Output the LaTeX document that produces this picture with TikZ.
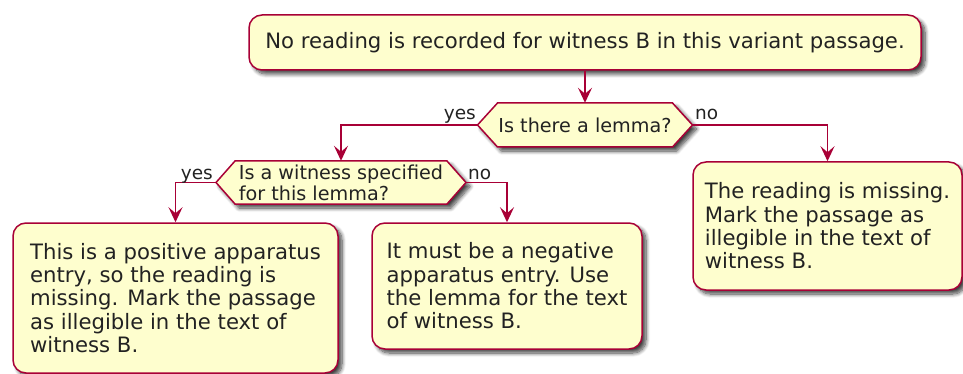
\documentclass[tikz,border=0pt]{standalone}
\usepackage{fontspec}
\setmainfont{DejaVu Sans}
\usetikzlibrary{arrows.meta,shadows.blur}
\definecolor{pborder}{HTML}{A80036}
\definecolor{pfill}{HTML}{FEFECE}
\definecolor{ptext}{HTML}{222222}
\tikzset{
  pshadow/.style={blur shadow={shadow xshift=4pt, shadow yshift=-4pt, shadow blur steps=8, shadow blur radius=4pt, shadow opacity=75}},
  actbox/.style={draw=pborder, fill=pfill, line width=1.5pt, rounded corners=13pt, align=left,
    font=\fontsize{21.2}{23.3}\selectfont, text=ptext, inner sep=0pt, pshadow},
  dectext/.style={inner sep=0pt, align=left, font=\fontsize{19.2}{21.2}\selectfont, text=ptext},
  hexpath/.style={draw=pborder, fill=pfill, line width=1.5pt, pshadow},
  lbl/.style={inner sep=0pt, font=\fontsize{18.5}{21}\selectfont, text=ptext},
  conn/.style={draw=pborder, line width=1.5pt, -{Stealth[length=15pt, width=14pt, inset=6pt]}}
}
\begin{document}
\begin{tikzpicture}[x=1pt,y=1pt]
\useasboundingbox (0,0) rectangle (963,-374);

\node[actbox, minimum width=672pt, minimum height=55pt] (start) at (585,-42.5)
  {No reading is recorded for witness B in this variant passage.};

% decision 1 hexagon (width 215, height 44, slant 20)
\coordinate (c1) at (585,-125);
\path[hexpath] ([shift={(-107.5,0)}]c1) -- ([shift={(-87.5,22)}]c1) -- ([shift={(87.5,22)}]c1)
  -- ([shift={(107.5,0)}]c1) -- ([shift={(87.5,-22)}]c1) -- ([shift={(-87.5,-22)}]c1) -- cycle;
\node[dectext, minimum width=215pt, minimum height=44pt] (d1) at (c1) {Is there a lemma?};

% decision 2 hexagon (width 250, height 43, slant 19)
\coordinate (c2) at (341,-182.5);
\path[hexpath] ([shift={(-125,0)}]c2) -- ([shift={(-106,21.5)}]c2) -- ([shift={(106,21.5)}]c2)
  -- ([shift={(125,0)}]c2) -- ([shift={(106,-21.5)}]c2) -- ([shift={(-106,-21.5)}]c2) -- cycle;
\node[dectext, minimum width=250pt, minimum height=43pt] (d2) at (c2) {Is a witness specified\\for this lemma?};

\node[actbox, minimum width=325pt, minimum height=150pt] (b1) at (175.5,-298)
  {This is a positive apparatus\\entry, so the reading is\\missing. Mark the passage\\as illegible in the text of\\witness B.};
\node[actbox, minimum width=270pt, minimum height=126pt] (b2) at (507,-286)
  {It must be a negative\\apparatus entry. Use\\the lemma for the text\\of witness B.};
\node[actbox, minimum width=269pt, minimum height=128pt] (b3) at (827.5,-226)
  {The reading is missing.\\Mark the passage as\\illegible in the text of\\witness B.};

\draw[conn] (start.south) -- (d1.north);
\draw[conn] (d1.west) -| (d2.north);
\draw[conn] (d1.east) -| (b3.north);
\draw[conn] (d2.west) -| (b1.north);
\draw[conn] (d2.east) -| (b2.north);

\node[lbl, anchor=base east] (y1) at (476,-120) {yes};
\node[lbl, anchor=base west] (n1) at (695,-120) {no};
\node[lbl, anchor=base east] (y2) at (213,-179) {yes};
\node[lbl, anchor=base west] (n2) at (468,-179) {no};
\end{tikzpicture}
\end{document}
